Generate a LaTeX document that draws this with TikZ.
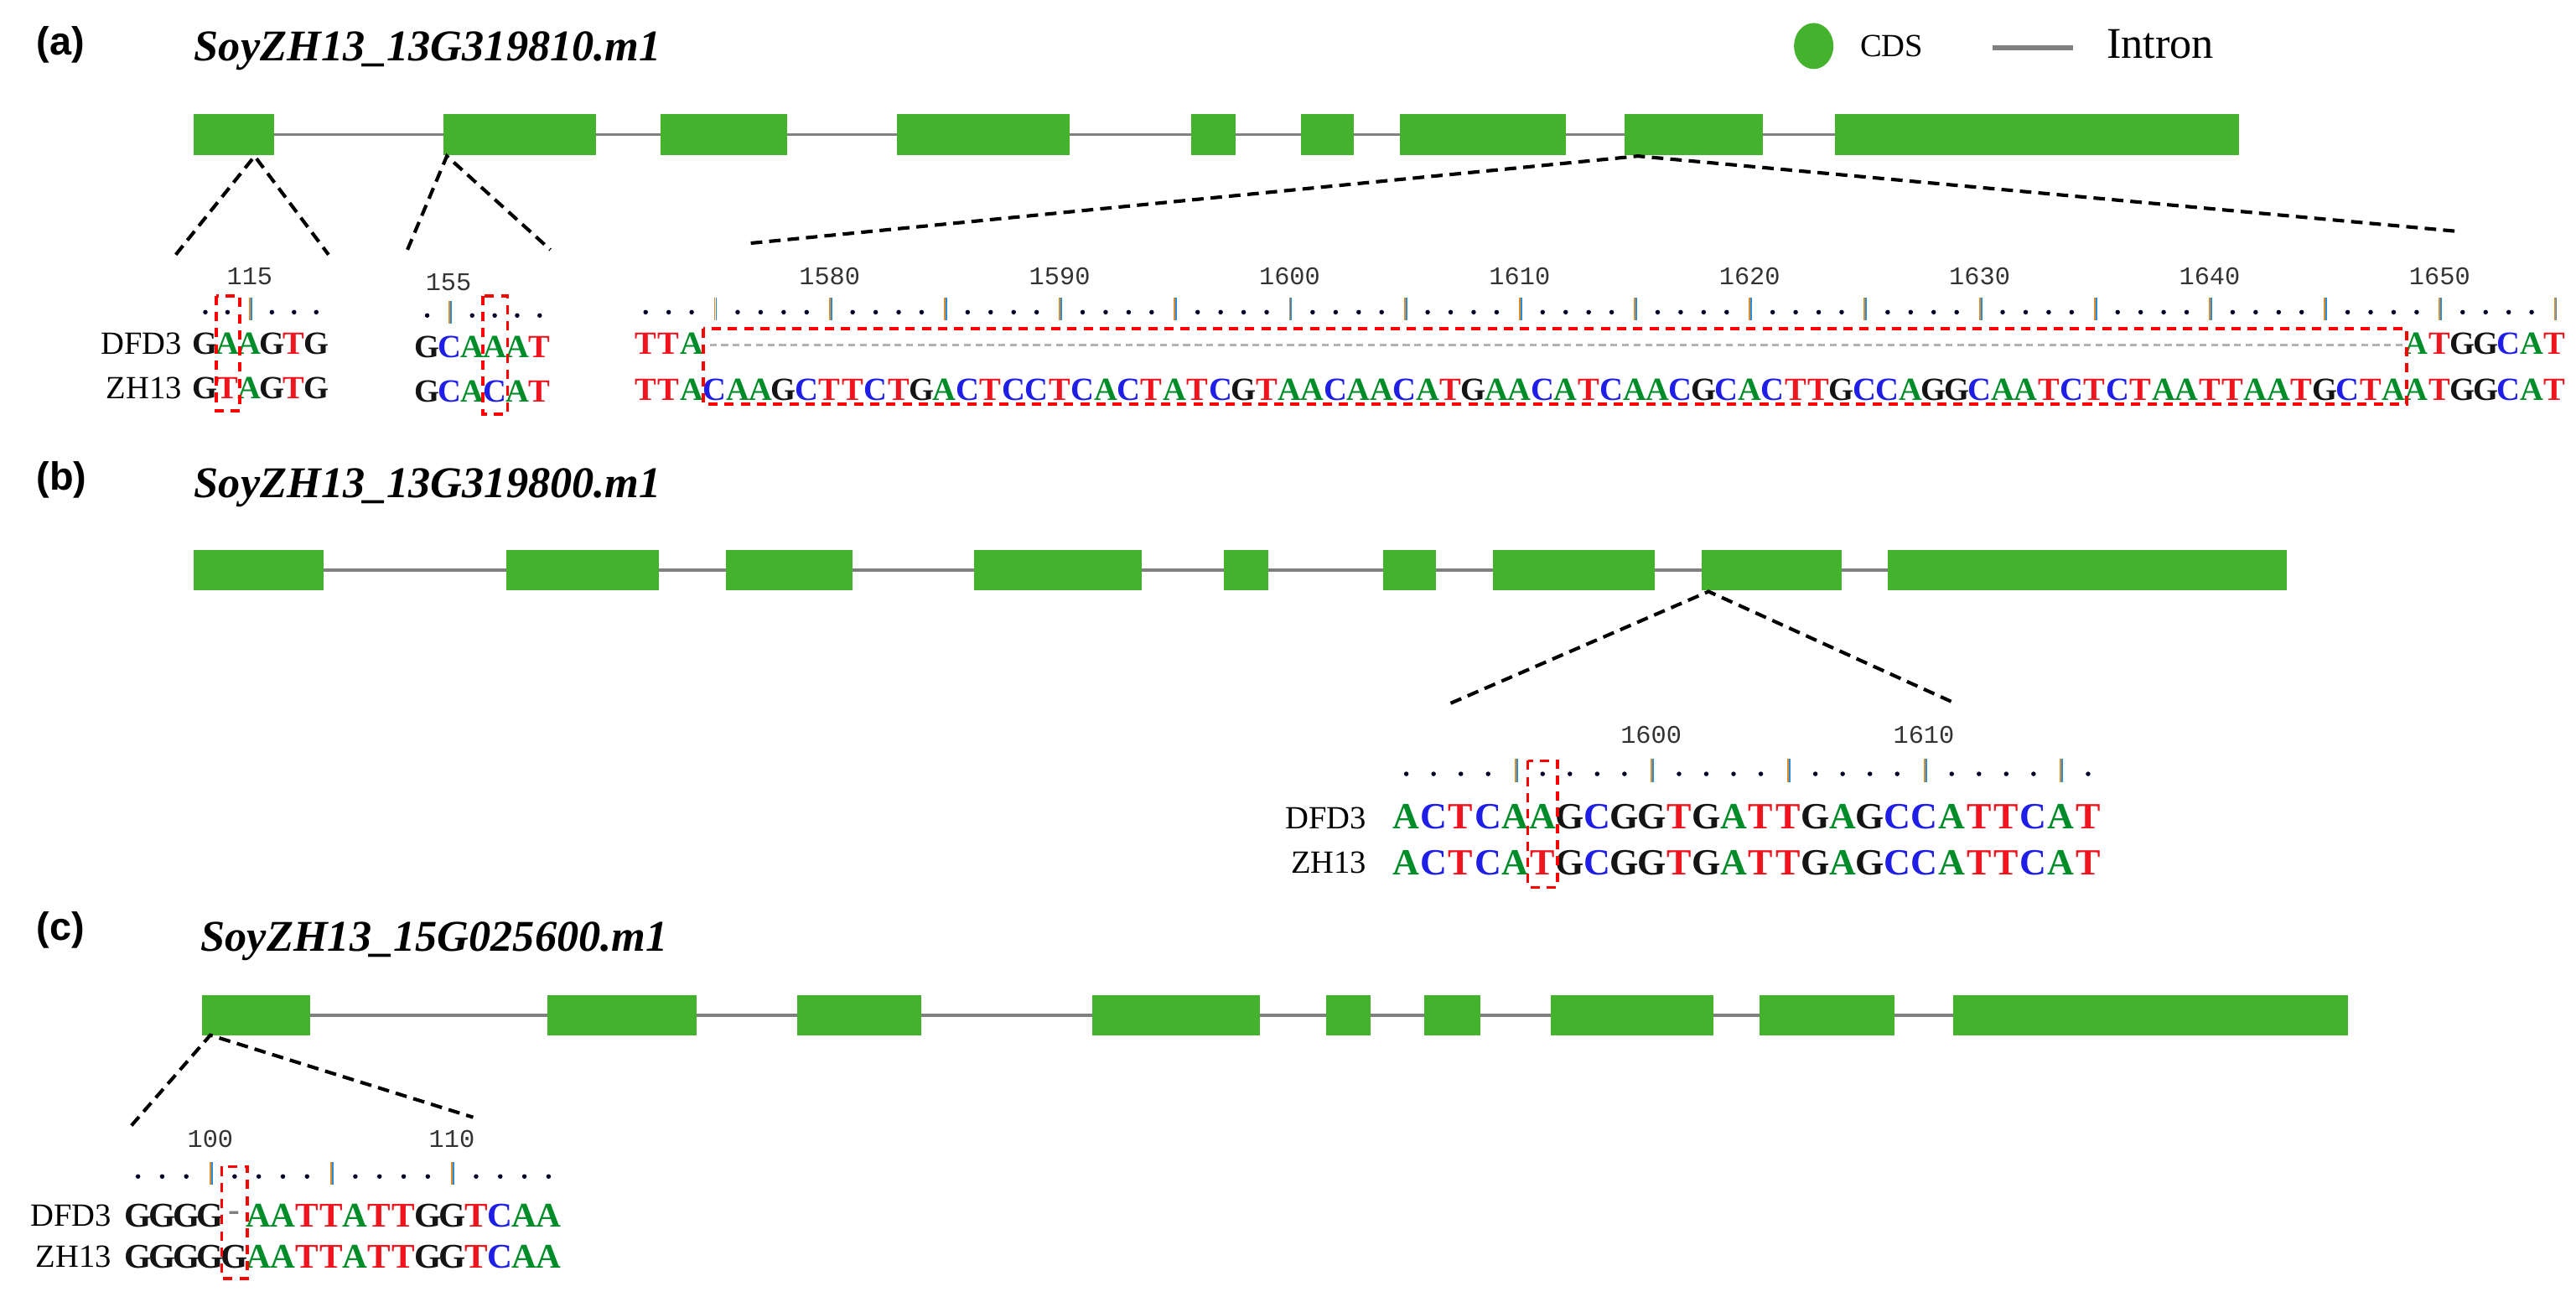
\documentclass[tikz,border=0pt]{standalone}
\usepackage{fontspec}
\setmainfont{Liberation Serif}
\newfontfamily\sansf{Liberation Sans}
\newfontfamily\monof{Liberation Mono}
\begin{document}
\definecolor{exg}{RGB}{68,178,45}
\definecolor{intg}{RGB}{128,128,128}
\definecolor{seqA}{RGB}{0,140,40}
\definecolor{seqT}{RGB}{240,20,30}
\definecolor{seqC}{RGB}{30,30,230}
\definecolor{seqG}{RGB}{20,20,20}
\definecolor{tko}{RGB}{225,140,40}
\definecolor{tkb}{RGB}{40,140,220}
\newcounter{lt}
\def\seqfs{14}
\newcommand\seqrow[4]{\def\sx{#1}\def\sy{#2}\def\sdx{#3}\seqloop#4\relax}
\def\seqloop#1{\ifx#1\relax\else
  \stepcounter{lt}\node[seq,b#1] (L\arabic{lt}) at (\sx,\sy) {#1};%
  \pgfmathsetmacro\sx{\sx+\sdx}\expandafter\seqloop\fi}
\newcommand\rulrow[4]{\def\sx{#1}\def\sy{#2}\def\sdx{#3}\rulloop#4\relax}
\def\rulloop#1{\ifx#1\relax\else
  \if t#1\draw[tkb,line width=0.7pt] (\sx+1,\sy-7)--(\sx+1,\sy+7);
     \draw[tko,line width=0.7pt] (\sx,\sy-7)--(\sx,\sy+7);
  \else\fill[black!85!blue] (\sx,\sy+2) circle[radius=1.4];\fi
  \pgfmathsetmacro\sx{\sx+\sdx}\expandafter\rulloop\fi}
\newcommand\exon[4]{\pgfmathsetmacro\ew{#3-#2}\pgfmathsetmacro\ec{(#2+#3)/2}%
  \node[exon,minimum width=\ew*0.25mm] (#1) at (\ec,#4) {};}
\tikzset{x=0.25mm,y=-0.25mm,
  exon/.style={fill=exg,draw=none,minimum height=6.2mm,inner sep=0},
  intron/.style={draw=intg,line width=1.3pt},
  conn/.style={draw=black,line width=1.5pt,dash pattern=on 5pt off 3pt},
  seq/.style={inner sep=0,font=\fontsize{\seqfs}{\seqfs}\selectfont\bfseries},
  bA/.style={text=seqA},bT/.style={text=seqT},bC/.style={text=seqC},bG/.style={text=seqG},
  b-/.style={text=gray},
  num/.style={inner sep=0,font=\monof\fontsize{11}{11}\selectfont,text=black!80},
  lab/.style={inner sep=0,anchor=east,font=\fontsize{14}{14}\selectfont},
  plab/.style={inner sep=0,anchor=west,font=\sansf\bfseries\fontsize{17}{17}\selectfont},
  ttl/.style={inner sep=0,anchor=west,font=\bfseries\itshape\fontsize{19}{19}\selectfont},
  rbox/.style={draw=red,line width=1.3pt,dash pattern=on 4pt off 3pt}}
\begin{tikzpicture}
\useasboundingbox (0,0) rectangle (1568,789);
% ---------------- (a)
\node[plab] (pa) at (22,27) {(a)};
\node[ttl] (ta) at (118,31) {SoyZH13\_13G319810.m1};
\fill[exg] (1104,28) ellipse[x radius=12,y radius=14];
\node[inner sep=0,anchor=west,font=\fontsize{14}{14}\selectfont] (cds) at (1132,28) {CDS};
\draw[intron,line width=2pt] (1213,29)--(1262,29);
\node[inner sep=0,anchor=west,font=\fontsize{19}{19}\selectfont] (intr) at (1282,27) {Intron};
\draw[intron] (118,82)--(1363,82);
\exon{a1}{118}{167}{82}\exon{a2}{270}{363}{82}\exon{a3}{402}{479}{82}
\exon{a4}{546}{651}{82}\exon{a5}{725}{752}{82}\exon{a6}{792}{824}{82}
\exon{a7}{852}{953}{82}\exon{a8}{989}{1073}{82}\exon{a9}{1117}{1363}{82}
\coordinate (pa1) at (155,95);\coordinate (pa2) at (272,95);\coordinate (pa8) at (997,95);
\coordinate (qa1l) at (107,155);\coordinate (qa1r) at (200,155);
\coordinate (qa2l) at (248,152);\coordinate (qa2r) at (335,152);
\coordinate (qa8l) at (457,148);\coordinate (qa8r) at (1498,141);
\draw[conn] (qa1l)--(pa1)--(qa1r);
\draw[conn] (qa2l)--(pa2)--(qa2r);
\draw[conn] (qa8l)--(pa8)--(qa8r);
% small a1
\node[num] (n115) at (152,168) {115};
\rulrow{125}{188}{13.5}{..t...}
\node[lab] (d1) at (111,209) {DFD3};
\node[lab] (z1) at (111,236) {ZH13};
\seqrow{125}{209}{13.5}{GAAGTG}
\seqrow{125}{236}{13.5}{GTAGTG}
\draw[rbox] (131.5,180) rectangle (146,250);
% small a2
\node[num] (n155) at (273,172) {155};
\rulrow{260}{190}{13.7}{.t....}
\seqrow{260}{211}{13.7}{GCAAAT}
\seqrow{260}{238}{13.7}{GCACAT}
\draw[rbox] (294,180) rectangle (309,252);
% big a
\foreach \n [count=\i from 0] in {1580,1590,...,1650}
  \node[num] (nb\i) at (505+\i*140,168) {\n};
\rulrow{393}{188}{14}{...t....t....t....t....t....t....t....t....t....t....t....t....t....t....t....t....t}
\seqrow{393}{209}{14}{TTA}
\draw[gray!60,line width=1pt,dash pattern=on 3pt off 2pt] (432,210)--(1463,210);
\seqrow{1471}{209}{14}{ATGGCAT}
\seqrow{393}{237}{14}{TTACAAGCTTCTGACTCCTCACTATCGTAACAACATGAACATCAACGCACTTGCCAGGCAATCTCTAATTAATGCTAATGGCAT}
\draw[rbox] (428,200) rectangle (1465,246);
% ---------------- (b)
\node[plab] (pb) at (22,292) {(b)};
\node[ttl] (tb) at (118,297) {SoyZH13\_13G319800.m1};
\draw[intron] (118,347)--(1392,347);
\exon{b1}{118}{197}{347}\exon{b2}{308}{401}{347}\exon{b3}{442}{519}{347}
\exon{b4}{593}{695}{347}\exon{b5}{745}{772}{347}\exon{b6}{842}{874}{347}
\exon{b7}{909}{1007}{347}\exon{b8}{1036}{1121}{347}\exon{b9}{1149}{1392}{347}
\coordinate (pb8) at (1040,360);\coordinate (qb8l) at (883,428);\coordinate (qb8r) at (1190,428);
\draw[conn] (qb8l)--(pb8)--(qb8r);
\node[num] (n1600) at (1005,447) {1600};
\node[num] (n1610) at (1171,447) {1610};
\rulrow{856}{469}{16.6}{....t....t....t....t....t.}
\node[lab] (d2) at (832,498) {DFD3};
\node[lab] (z2) at (832,525) {ZH13};
\def\seqfs{16}
\seqrow{856}{497}{16.6}{ACTCAAGCGGTGATTGAGCCATTCAT}
\seqrow{856}{525}{16.6}{ACTCATGCGGTGATTGAGCCATTCAT}
\draw[rbox] (930,463) rectangle (948,540);
% ---------------- (c)
\node[plab] (pc) at (22,566) {(c)};
\node[ttl] (tc) at (122,573) {SoyZH13\_15G025600.m1};
\draw[intron] (123,618)--(1429,618);
\exon{c1}{123}{189}{618}\exon{c2}{333}{424}{618}\exon{c3}{485}{561}{618}
\exon{c4}{665}{767}{618}\exon{c5}{807}{834}{618}\exon{c6}{867}{901}{618}
\exon{c7}{944}{1043}{618}\exon{c8}{1071}{1153}{618}\exon{c9}{1189}{1429}{618}
\coordinate (pc1) at (128,630);\coordinate (qc1l) at (80,685);\coordinate (qc1r) at (288,680);
\draw[conn] (qc1l)--(pc1)--(qc1r);
\node[num] (n100) at (128,693) {100};
\node[num] (n110) at (275,693) {110};
\rulrow{84}{714}{14.7}{...t....t....t....}
\node[lab] (d3) at (68,740) {DFD3};
\node[lab] (z3) at (68,765) {ZH13};
\def\seqfs{15}
\seqrow{84}{740}{14.7}{GGGG-AATTATTGGTCAA}
\seqrow{84}{765}{14.7}{GGGGGAATTATTGGTCAA}
\draw[rbox] (135,710) rectangle (150.5,778);
\end{tikzpicture}
\end{document}
